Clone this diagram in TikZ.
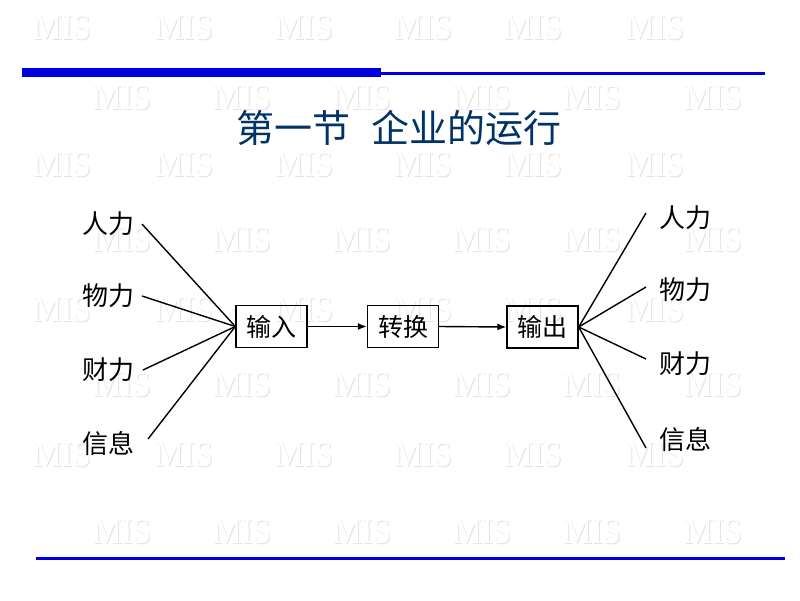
\documentclass[tikz,border=0pt]{standalone}
\usepackage{fontspec}
\newfontfamily\cjk{Noto Sans CJK SC}
\newfontfamily\wmfont{Liberation Serif}
\usetikzlibrary{arrows.meta}
\definecolor{barblue}{RGB}{0,0,225}
\definecolor{titleblue}{RGB}{0,51,102}
\tikzset{
  lbl/.style={font=\cjk\fontsize{26}{26}\selectfont, inner sep=4pt},
  boxnode/.style={draw, line width=1.4pt, minimum width=71pt, minimum height=42pt, inner sep=0pt, font=\cjk\fontsize{25}{25}\selectfont},
  conn/.style={line width=1.4pt},
  arr/.style={line width=1.4pt, -{Latex[length=9pt,width=7pt]}},
  wmshadow/.style={font=\wmfont\fontsize{36}{36}\selectfont, text=black!11, inner sep=0pt, xscale=0.9},
  wmface/.style={font=\wmfont\fontsize{36}{36}\selectfont, text=white, inner sep=0pt, xscale=0.9}
}
\begin{document}
\begin{tikzpicture}[x=1pt,y=-1pt]
\useasboundingbox (0,0) rectangle (800,600);
\fill[white] (0,0) rectangle (800,600);
% watermark
\foreach \yy in {28,165,310,455}{
  \foreach \xx in {62,184,304,423,533,655}{
    \node[wmshadow] at (\xx+1,\yy+1) {MIS};
    \node[wmface] at (\xx,\yy) {MIS};
  }
}
\foreach \yy in {98,240,385,532}{
  \foreach \xx in {122,242,362,482,592,713}{
    \node[wmshadow] at (\xx+1,\yy+1) {MIS};
    \node[wmface] at (\xx,\yy) {MIS};
  }
}
% bars
\fill[barblue] (22,68) rectangle (381,77);
\fill[barblue] (381,71.5) rectangle (765,74.5);
\fill[barblue] (36,556.5) rectangle (785,559.5);
% title
\node[text=titleblue, font=\cjk\fontsize{38}{38}\selectfont] (title) at (399,128) {第一节\hspace{22pt}企业的运行};
% boxes
\node[boxnode] (in) at (271.5,326.5) {输入};
\node[boxnode] (tr) at (403,326.5) {转换};
\node[boxnode] (out) at (542.5,327) {输出};
\draw[arr] (in.east) -- (tr.west);
\draw[arr] (tr.east) -- (out.west);
% left labels
\node[lbl, anchor=east] (l1) at (139,224) {人力};
\node[lbl, anchor=east] (l2) at (139,296) {物力};
\node[lbl, anchor=east] (l3) at (139,370) {财力};
\node[lbl, anchor=east] (l4) at (139,444) {信息};
\draw[conn] ([xshift=3pt]l1.east) -- (in.west);
\draw[conn] ([xshift=3pt]l2.east) -- (in.west);
\draw[conn] ([xshift=4pt]l3.east) -- (in.west);
\draw[conn] ([xshift=9pt,yshift=5pt]l4.east) -- (in.west);
% right labels
\node[lbl, anchor=west] (r1) at (655,218) {人力};
\node[lbl, anchor=west] (r2) at (655,290) {物力};
\node[lbl, anchor=west] (r3) at (655,364) {财力};
\node[lbl, anchor=west] (r4) at (655,440) {信息};
\draw[conn] (out.east) -- ([yshift=5pt,xshift=-9pt]r1.west);
\draw[conn] (out.east) -- ([yshift=3pt,xshift=-9pt]r2.west);
\draw[conn] (out.east) -- ([yshift=5pt,xshift=-9pt]r3.west);
\draw[conn] (out.east) -- ([yshift=-8pt,xshift=-9pt]r4.west);
\end{tikzpicture}
\end{document}
